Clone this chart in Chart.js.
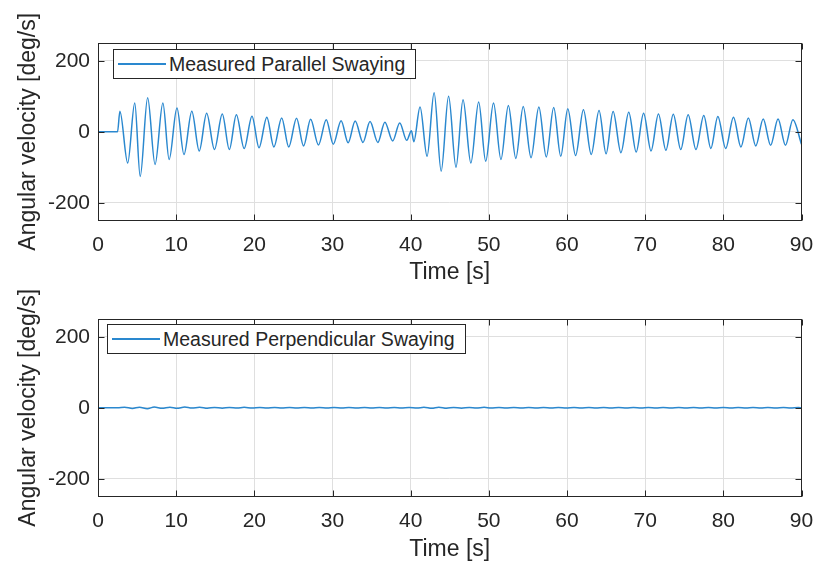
<!DOCTYPE html>
<html>
<head>
<meta charset="utf-8">
<script src="https://cdn.jsdelivr.net/npm/chart.js@4/dist/chart.umd.min.js"></script>
<style>
  body { margin: 0; background: #fff; }
  #figure { position: relative; width: 818px; height: 569px; overflow: hidden; }
  .panel { position: absolute; left: 0; }
  .legend {
    position: absolute;
    box-sizing: border-box;
    border: 1px solid #262626;
    background: #fff;
    display: flex;
    align-items: center;
    font-family: 'Liberation Sans', Arial, sans-serif;
    font-size: 19.5px;
    color: #262626;
    white-space: nowrap;
  }
</style>
</head>
<body>
<div id="figure">
  <div class="panel" style="top:0px"><canvas id="top_chart" width="818" height="286"></canvas></div>
  <div class="panel" style="top:286px"><canvas id="bottom_chart" width="818" height="277"></canvas></div>
  <div id="top_legend" class="legend"></div>
  <div id="bottom_legend" class="legend"></div>
</div>
<script>
// time axis and tick labels
const X_TICKS = [0, 10, 20, 30, 40, 50, 60, 70, 80, 90];
const Y_TICKS = [-200, 0, 200];

// parallel swaying: turning points (s, deg/s)
const parallel_time = [0, 2.5, 2.8, 3.8, 4.7, 5.4, 6.35, 7.3, 8.3, 9.1,
  10.1, 11.0, 12.0, 12.95, 13.9, 14.9, 15.9, 16.8, 17.7, 18.7,
  19.7, 20.6, 21.6, 22.5, 23.5, 24.4, 25.4, 26.3, 27.2, 28.2,
  29.2, 30.1, 31.1, 32.0, 32.9, 33.9, 34.8, 35.8, 36.7, 37.7,
  38.6, 39.5, 40.1, 40.4, 41.2, 42.1, 43.0, 43.9, 44.85, 45.8,
  46.7, 47.7, 48.7, 49.6, 50.6, 51.55, 52.5, 53.45, 54.4, 55.4,
  56.4, 57.35, 58.3, 59.2, 60.1, 61.1, 62.1, 63.1, 64.1, 65.0,
  65.9, 66.9, 67.9, 68.85, 69.8, 70.75, 71.7, 72.65, 73.6, 74.55,
  75.5, 76.5, 77.5, 78.4, 79.3, 80.3, 81.3, 82.25, 83.2, 84.15,
  85.1, 86.05, 87.0, 87.95, 88.9, 90];
const parallel_values = [0, 0, 58, -88, 81, -126, 96, -92, 81, -78,
  67, -64, 58, -54, 52, -50, 50, -50, 48, -47,
  44, -45, 41, -43, 39, -43, 38, -40, 35, -37,
  34, -35, 31, -31, 30, -30, 29, -30, 27, -26,
  25, -24, 3, -28, 70, -69, 110, -111, 100, -100,
  90, -88, 84, -83, 81, -78, 74, -75, 71, -73,
  70, -71, 68, -69, 65, -67, 62, -64, 60, -62,
  57, -59, 55, -57, 52, -54, 50, -52, 49, -50,
  48, -50, 46, -47, 43, -47, 41, -43, 39, -40,
  36, -38, 36, -38, 34, -35];

// perpendicular swaying: small wiggle around zero in the bottom panel
const perpendicular_time = [0, 2.5,
  3.4, 4.4, 5.3, 6.3, 7.2, 8.2, 9.2, 10.1, 11.1, 12.0,
  13.0, 14.0, 14.9, 15.9, 16.8, 17.8, 18.7, 19.7, 20.7, 21.6,
  22.6, 23.5, 24.5, 25.4, 26.4, 27.4, 28.3, 29.3, 30.2, 31.2,
  32.1, 33.1, 34.1, 35.0, 36.0, 36.9, 37.9, 38.8, 39.8, 40.8,
  41.7, 42.7, 43.6, 44.6, 45.5, 46.5, 47.5, 48.4, 49.4, 50.3,
  51.3, 52.2, 53.2, 54.2, 55.1, 56.1, 57.0, 58.0, 58.9, 59.9,
  60.9, 61.8, 62.8, 63.7, 64.7, 65.6, 66.6, 67.6, 68.5, 69.5,
  70.4, 71.4, 72.3, 73.3, 74.3, 75.2, 76.2, 77.1, 78.1, 79.0,
  80.0, 81.0, 81.9, 82.9, 83.8, 84.8, 85.7, 86.7, 87.7, 88.6,
  89.6, 90];
const perpendicular_values = [0, 0,
  1.5, -2, 1.5, -2.5, 2, -1.5, 1.5, -1.5, 2, -1,
  1.5, -1.5, 1, -1.5, 1, -1, 1.5, -1, 1, -1,
  1, -1, 1, -1, 1, -1, 1, -0.5, 1, -1,
  1, -1, 0.5, -1, 1, -0.5, 1, -1, 0.5, -1,
  1.5, -1.5, 1.5, -1.5, 1, -1.5, 1, -1, 1.5, -1,
  1, -1, 1, -1, 1, -1, 1, -0.5, 1, -1,
  1, -1, 0.5, -1, 1, -1, 1, -0.5, 1, -1,
  0.5, -1, 1, -0.5, 1, -1, 0.5, -1, 1, -0.5,
  1, -0.5, 1, -1, 0.5, -1, 1, -1, 0.5, -0.5,
  0.5, 0];

const LINE_COLOUR = '#2a88cf';
const AXIS_COLOUR = '#262626';
const GRID_COLOUR = '#dfdfdf';
const FONT_FAMILY = "'Liberation Sans', Arial, sans-serif";
const TICK_LEN = 6;

// matlab style box round the axes, with ticks pointing inwards
const boxPlugin = {
  id: 'box',
  afterDatasetsDraw(chart) {
    const {ctx, chartArea, scales} = chart;
    const left = Math.round(chartArea.left) + 0.5;
    const right = Math.round(chartArea.right) - 0.5;
    const top = Math.round(chartArea.top) + 0.5;
    const bottom = Math.round(chartArea.bottom) - 0.5;
    ctx.save();
    ctx.strokeStyle = AXIS_COLOUR;
    ctx.lineWidth = 1;
    ctx.strokeRect(left, top, right - left, bottom - top);
    ctx.beginPath();
    scales.x.ticks.forEach(tick => {
      const px = Math.round(scales.x.getPixelForValue(tick.value)) + 0.5;
      ctx.moveTo(px, bottom);
      ctx.lineTo(px, bottom - TICK_LEN);
      ctx.moveTo(px, top);
      ctx.lineTo(px, top + TICK_LEN);
    });
    scales.y.ticks.forEach(tick => {
      const py = Math.round(scales.y.getPixelForValue(tick.value)) + 0.5;
      ctx.moveTo(left, py);
      ctx.lineTo(left + TICK_LEN, py);
      ctx.moveTo(right, py);
      ctx.lineTo(right - TICK_LEN, py);
    });
    ctx.stroke();
    ctx.restore();
  }
};

function makeLegend(id, label, box) {
  const container = document.getElementById(id);
  container.style.left = box.left + 'px';
  container.style.top = box.top + 'px';
  container.style.width = box.width + 'px';
  container.style.height = box.height + 'px';

  const line = document.createElement('span');
  line.style.display = 'inline-block';
  line.style.width = '48px';
  line.style.height = '2px';
  line.style.background = LINE_COLOUR;
  line.style.marginLeft = '4px';
  line.style.marginRight = '3px';

  const text = document.createElement('span');
  text.appendChild(document.createTextNode(label));

  container.appendChild(line);
  container.appendChild(text);
}

function createPanel(canvas_id, times, values, label, area) {
  const ctx = document.getElementById(canvas_id);
  const points = times.map((t, i) => ({x: t, y: values[i]}));

  return new Chart(ctx, {
    type: 'line',
    data: {
      datasets: [{
        label: label,
        data: points,
        borderColor: LINE_COLOUR,
        borderWidth: 1.5,
        pointRadius: 0,
        fill: false,
        cubicInterpolationMode: 'monotone',
      }],
    },
    options: {
      responsive: false,
      animation: false,
      devicePixelRatio: 1,
      layout: {
        padding: {top: area.top, right: area.right, left: 0, bottom: 0},
      },
      plugins: {
        legend: {display: false},
        tooltip: {enabled: false},
      },
      scales: {
        x: {
          type: 'linear',
          min: 0,
          max: 90,
          afterBuildTicks: scale => {
            scale.ticks = X_TICKS.map(v => ({value: v}));
          },
          afterFit: scale => {
            scale.height = area.xHeight;
            // the "90" label may hang past the plot, the layout padding covers it
            scale.paddingLeft = 0;
            scale.paddingRight = 0;
          },
          grid: {color: GRID_COLOUR, drawTicks: false},
          border: {display: false},
          ticks: {
            color: AXIS_COLOUR,
            padding: 12,
            maxRotation: 0,
            font: {family: FONT_FAMILY, size: 21},
          },
          title: {
            display: true,
            text: 'Time [s]',
            color: AXIS_COLOUR,
            padding: {top: 0, bottom: 0},
            font: {family: FONT_FAMILY, size: 23},
          },
        },
        y: {
          min: -250,
          max: 250,
          afterBuildTicks: scale => {
            scale.ticks = Y_TICKS.map(v => ({value: v}));
          },
          afterFit: scale => {
            scale.width = area.yWidth;
            scale.paddingTop = 0;
            scale.paddingBottom = 0;
          },
          grid: {color: GRID_COLOUR, drawTicks: false},
          border: {display: false},
          ticks: {
            color: AXIS_COLOUR,
            padding: 8,
            font: {family: FONT_FAMILY, size: 21},
          },
          title: {
            display: true,
            text: 'Angular velocity [deg/s]',
            color: AXIS_COLOUR,
            padding: {top: 15, bottom: 0},
            font: {family: FONT_FAMILY, size: 23},
          },
        },
      },
    },
    plugins: [boxPlugin],
  });
}

createPanel('top_chart', parallel_time, parallel_values, 'Measured Parallel Swaying',
  {top: 43, right: 16.5, xHeight: 65.5, yWidth: 98});
createPanel('bottom_chart', perpendicular_time, perpendicular_values, 'Measured Perpendicular Swaying',
  {top: 33, right: 16.5, xHeight: 66.5, yWidth: 98});

makeLegend('top_legend', 'Measured Parallel Swaying', {left: 113, top: 49, width: 303, height: 30});
makeLegend('bottom_legend', 'Measured Perpendicular Swaying', {left: 107, top: 324, width: 359, height: 30});
</script>
</body>
</html>
